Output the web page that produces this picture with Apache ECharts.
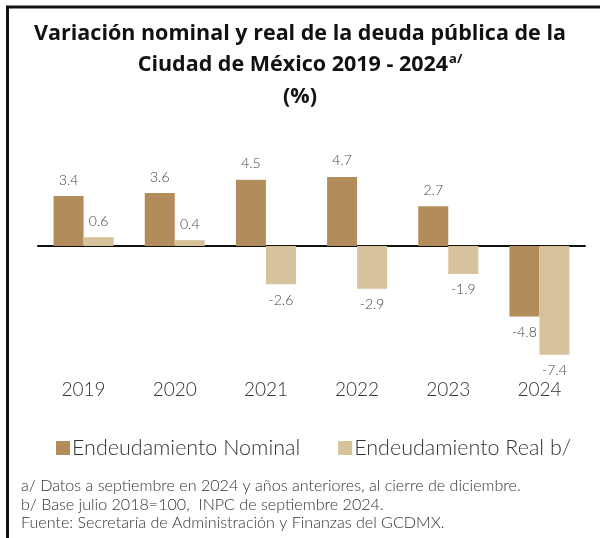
<!DOCTYPE html>
<html>
<head>
<meta charset="utf-8">
<script src="https://cdn.jsdelivr.net/npm/echarts@6/dist/echarts.min.js"></script>
<style>
  html, body { margin: 0; padding: 0; background: #fff; }
  #chart { width: 600px; height: 538px; }
</style>
</head>
<body>
<div id="chart"></div>
<script>
const years = ['2019', '2020', '2021', '2022', '2023', '2024']
const nominal = [3.4, 3.6, 4.5, 4.7, 2.7, -4.8]
const real = [0.6, 0.4, -2.6, -2.9, -1.9, -7.4]
const seriesNames = ['Endeudamiento Nominal', 'Endeudamiento Real b/']
const titleLines = [
  'Variación nominal y real de la deuda pública de la',
  'Ciudad de México 2019 - 2024{sup|a/}',
  '(%)'
]
const notes = [
  'a/ Datos a septiembre en 2024 y años anteriores, al cierre de diciembre.',
  'b/ Base julio 2018=100,  INPC de septiembre 2024.',
  'Fuente: Secretaría de Administración y Finanzas del GCDMX.'
]

const FONT = 'Lato, "Noto Sans", sans-serif'
const TITLE_FONT = '"Open Sans", Lato, sans-serif'
const colors = ['#b38c5b', '#d6c29b']

const chart = echarts.init(document.getElementById('chart'))

function barLabel(v) {
  return {
    show: true,
    position: v < 0 ? 'bottom' : 'top',
    distance: 9,
    fontFamily: FONT,
    fontWeight: 300,
    fontSize: 14,
    color: '#444',
    formatter: p => p.value.toFixed(1)
  }
}

function seriesData(arr) {
  return arr.map(v => ({ value: v, label: barLabel(v) }))
}

const titleTops = [23, 53, 86]
const titleStyle = {
  fontFamily: TITLE_FONT,
  fontWeight: 'bold',
  fontSize: 21.5,
  color: '#111',
  rich: {
    sup: { fontFamily: TITLE_FONT, fontWeight: 'bold', fontSize: 13, verticalAlign: 'top', padding: [0, 0, 10, 1], color: '#111' }
  }
}

chart.setOption({
  animation: false,
  color: colors,
  title: titleLines.map((t, i) => ({
    text: t,
    left: 'center',
    top: titleTops[i],
    padding: 0,
    textStyle: titleStyle
  })).concat([
    {
      text: notes.join('\n'),
      left: 21,
      top: 477,
      padding: 0,
      textStyle: {
        fontFamily: FONT,
        fontWeight: 300,
        fontSize: 16.1,
        lineHeight: 18.5,
        color: '#333'
      }
    }
  ]),
  legend: {
    top: 432,
    left: 51,
    itemWidth: 14,
    itemHeight: 14,
    itemGap: 38,
    icon: 'rect',
    textStyle: { fontFamily: FONT, fontWeight: 300, fontSize: 21.5, color: '#333', padding: [0, 0, 0, -3] },
    data: seriesNames
  },
  grid: { left: 38, right: 15, top: 157.8, bottom: 174.4 },
  xAxis: [
    {
      type: 'category',
      data: years,
      axisLine: { onZero: true, lineStyle: { color: '#111', width: 2 } },
      axisTick: { show: false },
      axisLabel: { show: false }
    },
    {
      type: 'category',
      data: years,
      position: 'bottom',
      axisLine: { show: false, onZero: false },
      axisTick: { show: false },
      axisLabel: { fontFamily: FONT, fontWeight: 300, fontSize: 19, color: '#333', margin: 17 }
    }
  ],
  yAxis: {
    type: 'value',
    min: -8,
    max: 6,
    show: false
  },
  series: [
    {
      name: seriesNames[0],
      type: 'bar',
      xAxisIndex: 0,
      barWidth: 30,
      barGap: '0%',
      data: seriesData(nominal)
    },
    {
      name: seriesNames[1],
      type: 'bar',
      xAxisIndex: 0,
      barWidth: 30,
      barGap: '0%',
      data: seriesData(real)
    }
  ],
  graphic: [
    { type: 'line', shape: { x1: 6, y1: 7, x2: 600, y2: 7 }, style: { stroke: '#111', lineWidth: 3 } },
    { type: 'line', shape: { x1: 7.5, y1: 6, x2: 7.5, y2: 538 }, style: { stroke: '#111', lineWidth: 3 } }
  ]
})
</script>
</body>
</html>
